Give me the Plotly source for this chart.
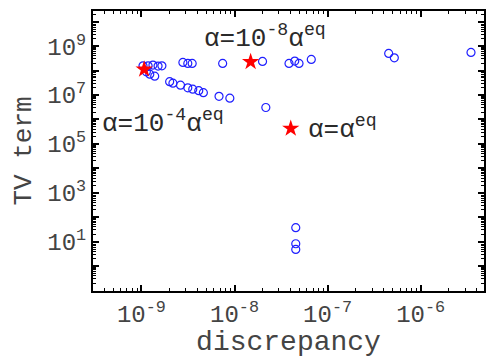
import numpy as np
import plotly.graph_objects as go

# Measured runs: discrepancy vs. TV term
discrepancy = [
    1.04e-9, 1.18e-9, 1.33e-9, 1.51e-9, 1.66e-9, 2.79e-9, 3.15e-9, 3.51e-9,
    7.46e-9, 2.00e-8, 3.85e-8, 4.44e-8, 4.93e-8, 6.68e-8, 4.53e-7, 5.21e-7,
    3.47e-6,
    1.13e-9, 1.23e-9, 1.39e-9, 2.01e-9, 2.18e-9, 2.63e-9, 3.15e-9, 3.56e-9,
    4.13e-9, 4.63e-9, 6.82e-9, 8.91e-9, 2.17e-8,
    4.55e-8, 4.55e-8, 4.55e-8,
]
tv_term = [
    1.57e8, 1.57e8, 1.68e8, 1.53e8, 1.57e8, 2.17e8, 1.97e8, 1.97e8,
    1.97e8, 2.38e8, 1.97e8, 2.45e8, 1.97e8, 2.88e8, 5.07e8, 3.34e8,
    5.57e8,
    8.91e7, 7.18e7, 5.94e7, 3.54e7, 3.07e7, 2.54e7, 1.97e7, 1.74e7,
    1.51e7, 1.25e7, 8.83e6, 7.45e6, 3.10e6,
    3.72e1, 8.22e0, 4.80e0,
]

# Selected regularisation weights
star_disc = [1.07e-9, 1.49e-8, 4.02e-8]
star_tv = [1.13e8, 2.29e8, 4.27e5]

x_label_exps = [-9, -8, -7, -6]
y_label_exps = [1, 3, 5, 7, 9]

FONT = "Liberation Mono"
TEXT_GRAY = "#444444"

fig = go.Figure()
fig.add_trace(go.Scatter(
    x=discrepancy, y=tv_term, mode="markers",
    marker=dict(symbol="circle-open", size=8, color="#1f1fff",
                line=dict(width=1.2, color="#1f1fff")),
    showlegend=False,
))
fig.add_trace(go.Scatter(
    x=star_disc, y=star_tv, mode="markers",
    marker=dict(symbol="star", size=13, color="#ff0000",
                line=dict(width=0)),
    showlegend=False,
))

# Major ticks every decade, labels only on selected decades
x_major = list(range(-10, -4))
y_major = list(range(-1, 11))
x_text = [f"10<sup>{k}</sup>" if k in x_label_exps else "" for k in x_major]
y_text = [f"10<sup>{k}</sup>" if k in y_label_exps else "" for k in y_major]
x_minor = [m * 10.0 ** d for d in x_major for m in range(2, 10)]
y_minor = [m * 10.0 ** d for d in y_major for m in range(2, 10)]

axis_common = dict(
    type="log", showgrid=False, zeroline=False,
    showline=True, linecolor="black", linewidth=2, mirror="ticks",
    ticks="inside", ticklen=6, tickwidth=1.5, tickcolor="black",
    tickfont=dict(family=FONT, size=24, color=TEXT_GRAY),
)

fig.update_xaxes(
    **axis_common,
    range=[-9.52, -5.32],
    tickmode="array",
    tickvals=[10.0 ** k for k in x_major], ticktext=x_text,
    minor=dict(tickmode="array", tickvals=x_minor, ticks="inside",
               ticklen=3, tickwidth=1, tickcolor="black"),
    title=dict(text="discrepancy", font=dict(family=FONT, size=28, color=TEXT_GRAY),
               standoff=2),
)
fig.update_yaxes(
    **axis_common,
    range=[-1.02, 10.44],
    tickmode="array",
    tickvals=[10.0 ** k for k in y_major], ticktext=y_text,
    minor=dict(tickmode="array", tickvals=y_minor, ticks="inside",
               ticklen=3, tickwidth=1, tickcolor="black"),
    title=dict(text="TV term", font=dict(family=FONT, size=26, color=TEXT_GRAY),
               standoff=8),
)

ann_font = dict(family=FONT, size=26, color="#2a2a2a")
fig.add_annotation(text="α=10<sup>-8</sup>α<sup>eq</sup>", xref="paper", yref="paper",
                   x=0.28, y=0.907, xanchor="left", yanchor="middle",
                   showarrow=False, font=ann_font)
fig.add_annotation(text="α=10<sup>-4</sup>α<sup>eq</sup>", xref="paper", yref="paper",
                   x=0.018, y=0.603, xanchor="left", yanchor="middle",
                   showarrow=False, font=ann_font)
fig.add_annotation(text="α=α<sup>eq</sup>", xref="paper", yref="paper",
                   x=0.545, y=0.581, xanchor="left", yanchor="middle",
                   showarrow=False, font=ann_font)

fig.update_layout(
    width=488, height=358,
    margin=dict(l=93, r=2, t=11, b=67),
    paper_bgcolor="white", plot_bgcolor="white",
)

fig.write_html("out.html")
